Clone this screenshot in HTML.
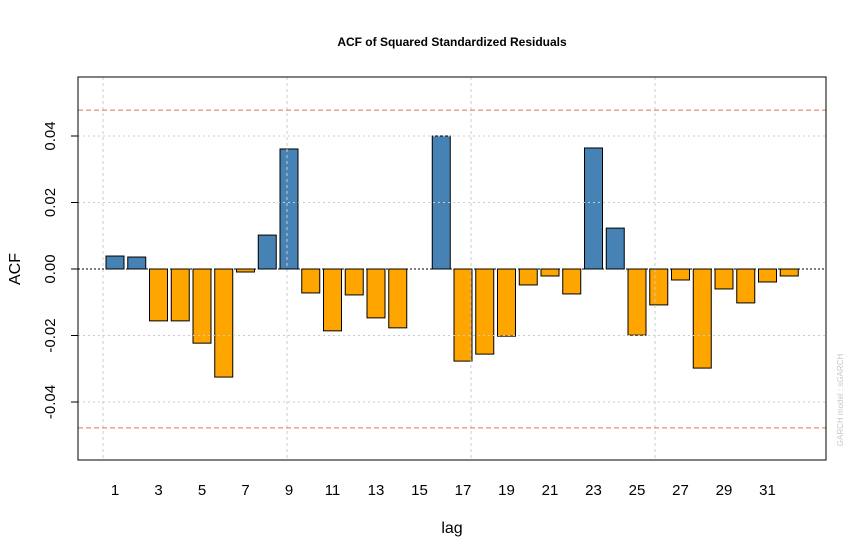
<!DOCTYPE html>
<html><head><meta charset="utf-8"><style>
html,body{margin:0;padding:0;background:#fff;}
svg{display:block;font-family:"Liberation Sans",Arial,sans-serif;}
</style></head><body>
<svg id="chart" width="867" height="558" viewBox="0 0 867 558">
<text x="452" y="46" text-anchor="middle" font-size="12" font-weight="bold">ACF of Squared Standardized Residuals</text>
<text x="452" y="533" text-anchor="middle" font-size="16">lag</text>
<text transform="translate(20,269) rotate(-90)" text-anchor="middle" font-size="16">ACF</text>
<text transform="translate(843,400) rotate(-90)" text-anchor="middle" font-size="8" fill="#c8c8c8">GARCH model : sGARCH</text>
<g id="bars"></g>
<g id="grid"></g>
<g id="axes"></g>
<rect x="78" y="77" width="748" height="383" fill="none" stroke="#000" stroke-width="1"/>
</svg>
<script>
const lags=[1,2,3,4,5,6,7,8,9,10,11,12,13,14,15,16,17,18,19,20,21,22,23,24,25,26,27,28,29,30,31,32];
const acfValues=[0.0039,0.0036,-0.0156,-0.0156,-0.0223,-0.0325,-0.0009,0.0102,0.0361,-0.0072,-0.0186,-0.0078,-0.0147,-0.0177,0,0.0400,-0.0277,-0.0256,-0.0202,-0.0048,-0.0021,-0.0075,0.0364,0.0123,-0.0199,-0.0108,-0.0033,-0.0298,-0.0060,-0.0102,-0.0039,-0.0021];
const yTicks=[-0.04,-0.02,0,0.02,0.04];
const yTickLabels=["-0.04","-0.02","0.00","0.02","0.04"];
const xTickLabels=[1,3,5,7,9,11,13,15,17,19,21,23,25,27,29,31];
const confBound=0.0478;
const NS="http://www.w3.org/2000/svg";
function xs(l){return 115+(l-1)*21.75;}
function ys(v){return 269-v*3325;}
function mk(tag,attrs,parent){const e=document.createElementNS(NS,tag);for(const k in attrs)e.setAttribute(k,attrs[k]);parent.appendChild(e);return e;}
const bars=document.getElementById('bars'),grid=document.getElementById('grid'),axes=document.getElementById('axes');
lags.forEach((l,i)=>{const v=acfValues[i];if(v===0)return;
const y0=ys(0),y1=ys(v);
const r=mk('rect',{x:xs(l)-9,y:Math.min(y0,y1),width:18,height:Math.abs(y1-y0),fill:v>0?'#4682B4':'#FFA500',stroke:'#000','stroke-width':1},bars);

});
[103,287,471,655].forEach(x=>{const g=mk('line',{x1:x,x2:x,y1:77,y2:460,stroke:'#ccc','stroke-dasharray':'3,3'},grid);

});
yTicks.forEach((t,i)=>{const y=ys(t);
if(t!==0){const g=mk('line',{x1:78,x2:826,y1:y,y2:y,stroke:'#ccc','stroke-dasharray':'2,3'},grid);

}
mk('line',{x1:71,x2:78,y1:y,y2:y,stroke:'#000'},axes);
const tx=mk('text',{transform:`translate(55,${y}) rotate(-90)`,'text-anchor':'middle','font-size':15},axes);
tx.textContent=yTickLabels[i];

});
const z=mk('line',{x1:78,x2:826,y1:ys(0),y2:ys(0),stroke:'#000','stroke-dasharray':'2,2'},grid);


[confBound,-confBound].forEach(c=>{const l=mk('line',{x1:78,x2:826,y1:ys(c),y2:ys(c),stroke:'#d9735e','stroke-dasharray':'5,3'},grid);

});
xTickLabels.forEach(l=>{const t=mk('text',{x:xs(l),y:495,'text-anchor':'middle','font-size':15},axes);
t.textContent=l;

});
</script>
</body></html>
